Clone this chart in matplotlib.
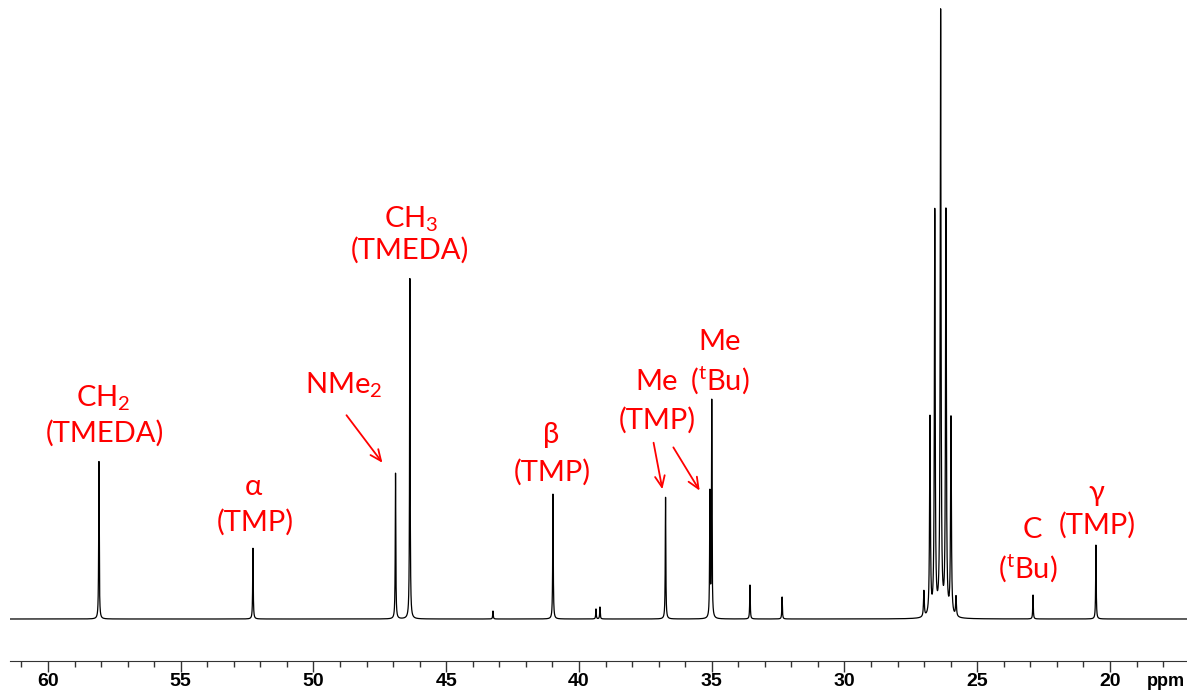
import numpy as np
import matplotlib.pyplot as plt

# -----------------------------
# DATA (13C NMR peaks)
# -----------------------------
peak_ppm = np.array([58.08, 52.28, 46.91, 46.37, 43.24, 40.98, 39.36, 39.21,
                     36.74, 35.07, 35.00, 33.56, 32.35, 22.90, 20.53])
peak_height = np.array([158, 71, 146, 341, 8, 125, 10, 12,
                        122, 124, 217, 34, 22, 24, 74])

# solvent multiplet (C6D12)
solv_ppm = np.array([27.01, 26.78, 26.60, 26.38, 26.18, 25.99, 25.80])
solv_height = np.array([26, 198, 404, 604, 404, 198, 20])

# labels: text, ppm, intensity
label_text = ['CH$_\\mathregular{2}$', '(TMEDA)', 'α', '(TMP)', 'NMe$_\\mathregular{2}$',
              'CH$_\\mathregular{3}$', '(TMEDA)', 'β', '(TMP)', 'Me', '(TMP)',
              'Me', '($^\\mathregular{t}$Bu)', 'C', '($^\\mathregular{t}$Bu)', 'γ', '(TMP)']
label_ppm = [57.93, 57.85, 52.28, 52.20, 48.85, 46.30, 46.35, 41.05, 41.02,
             37.06, 37.06, 34.69, 34.69, 22.94, 23.09, 20.53, 20.49]
label_y = [221, 186, 132, 97, 234, 400, 369, 184, 147, 237, 199,
           277, 239, 89, 51, 126, 94]

# arrows: (from ppm, from y) -> (to ppm, to y)
arrows = [((48.82, 206), (47.34, 154)),
          ((37.21, 179), (36.84, 127)),
          ((36.50, 174), (35.40, 126))]

# -----------------------------
# SPECTRUM (Lorentzian lines)
# -----------------------------
ppm = np.linspace(61.5, 17.0, 30000)
spec = np.zeros_like(ppm)
for p, h in zip(peak_ppm, peak_height):
    g = 0.012
    spec += h * g**2 / ((ppm - p)**2 + g**2)
for p, h in zip(solv_ppm, solv_height):
    g = 0.018
    spec += h * g**2 / ((ppm - p)**2 + g**2)

# -----------------------------
# PLOT
# -----------------------------
plt.rcParams['mathtext.fontset'] = 'custom'
plt.rcParams['mathtext.rm'] = 'Lato'

fig = plt.figure(figsize=(11.87, 6.95), dpi=100)
ax = fig.add_axes([10 / 1187, 1 - 661 / 695, 1177 / 1187, 661 / 695])

ax.plot(ppm, spec, color='black', linewidth=0.9)

red = '#ff0000'
for t, xp, yp in zip(label_text, label_ppm, label_y):
    ax.text(xp, yp, t, color=red, fontsize=21, ha='center', va='center',
            family=['Lato', 'DejaVu Sans'])

for (x0, y0), (x1, y1) in arrows:
    ax.annotate('', xy=(x1, y1), xytext=(x0, y0),
                arrowprops=dict(arrowstyle='->,head_length=0.8,head_width=0.35',
                                color=red, lw=1.3))

ax.set_xlim(61.43, 17.10)
ax.set_ylim(-42, 619)

for s in ['top', 'left', 'right']:
    ax.spines[s].set_visible(False)
ax.spines['bottom'].set_color('#333333')
ax.set_yticks([])
ax.set_xticks([60, 55, 50, 45, 40, 35, 30, 25, 20])
ax.set_xticks(np.arange(18, 62, 1), minor=True)
ax.tick_params(axis='x', which='major', length=8, width=1, direction='out',
               pad=1, labelsize=14, colors='#333333', labelcolor='black')
ax.tick_params(axis='x', which='minor', length=4, width=1, direction='out',
               colors='#333333')
for lab in ax.get_xticklabels():
    lab.set_fontweight('bold')
    lab.set_family('Liberation Sans')

fig.text(1166 / 1187, 1 - 681 / 695, 'ppm', ha='center', va='center',
         fontsize=13, fontweight='bold', family='Liberation Sans')

fig.savefig('out.png', dpi=100)
